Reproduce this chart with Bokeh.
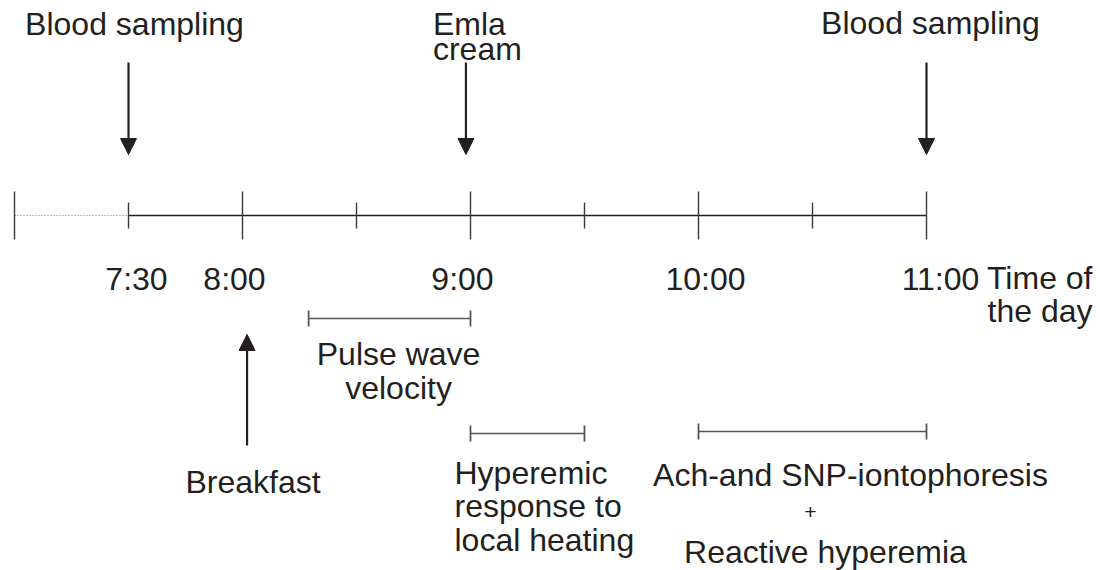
from bokeh.plotting import figure
from bokeh.models import Range1d, Arrow, NormalHead, ColumnDataSource
from bokeh.core.properties import value
from bokeh.embed import file_html
from bokeh.resources import INLINE

# ---------------- data (times in hours of the day) ----------------
timeline_start = 7.0          # dotted part starts here
timeline_solid_start = 7.5    # solid part starts here
timeline_end = 11.0
major_ticks = [7.0, 8.0, 9.0, 10.0, 11.0]
minor_ticks = [7.5, 8.5, 9.5, 10.5]
tick_label_times = [7.5, 8.0, 9.0, 10.0, 11.0]
tick_labels = ["7:30", "8:00", "9:00", "10:00", "11:00"]
axis_title = ["Time of", "the day"]

down_event_times = [7.5, 8.98, 11.0]
down_event_labels = [["Blood sampling"], ["Emla", "cream"], ["Blood sampling"]]
up_event_times = [8.02]
up_event_labels = [["Breakfast"]]

period_starts = [8.29, 9.0, 10.0]
period_ends = [9.0, 9.5, 11.0]
period_labels = [["Pulse wave", "velocity"],
                 ["Hyperemic", "response to", "local heating"],
                 ["Ach-and SNP-iontophoresis", "+", "Reactive hyperemia"]]

# ---------------- style / layout ----------------
INK = "#231f20"
GREY = "#555555"
FONT = value("Liberation Sans")
FS = "32px"
W, H = 1100, 570
PX_PER_HOUR = 228.0
X0 = 7.0 - 14.0 / PX_PER_HOUR
X1 = X0 + W / PX_PER_HOUR
TEXT_DY = -12   # correction between requested and rendered baseline

AXIS_Y = 215
MAJOR_HALF = 24
MINOR_HALF = 13
TICK_LABEL_Y = 290

p = figure(width=W, height=H, output_backend="svg", toolbar_location=None,
           x_axis_type=None, y_axis_type=None,
           x_range=Range1d(X0, X1), y_range=Range1d(H, 0),
           min_border=0, min_border_left=0, min_border_right=0,
           min_border_top=0, min_border_bottom=0)
p.grid.visible = False
p.outline_line_color = None
p.background_fill_color = "white"
p.border_fill_color = "white"


def text(xs, ys, txt, align="center", dx=0, size=FS):
    p.text(x=xs, y=[y + TEXT_DY for y in ys], text=txt, text_align=align,
           text_baseline="alphabetic", x_offset=dx, text_font=FONT,
           text_font_size=size, text_color=INK)


# timeline
p.line([timeline_start, timeline_solid_start], [AXIS_Y, AXIS_Y],
       line_color="#777777", line_width=1, line_dash="1 2")
p.line([timeline_solid_start, timeline_end], [AXIS_Y, AXIS_Y],
       line_color=INK, line_width=1.4)
p.segment(x0=major_ticks, x1=major_ticks,
          y0=[AXIS_Y - MAJOR_HALF] * len(major_ticks),
          y1=[AXIS_Y + MAJOR_HALF] * len(major_ticks),
          line_color="#3a3a3a", line_width=1.4)
p.segment(x0=minor_ticks, x1=minor_ticks,
          y0=[AXIS_Y - MINOR_HALF] * len(minor_ticks),
          y1=[AXIS_Y + MINOR_HALF] * len(minor_ticks),
          line_color="#3a3a3a", line_width=1.4)

# tick labels
tick_dx = [8, -8, -8, 7, 14]
for t, lab, dx in zip(tick_label_times, tick_labels, tick_dx):
    text([t], [TICK_LABEL_Y], [lab], "center", dx)

# axis title, right aligned near the page edge
title_dx = 166
for i, line in enumerate(axis_title):
    text([timeline_end], [289 + 33 * i], [line], "right", title_dx)

# down arrows (events on top)
down_src = ColumnDataSource(dict(x0=down_event_times, x1=down_event_times,
                                 y0=[62] * len(down_event_times),
                                 y1=[154] * len(down_event_times)))
p.add_layout(Arrow(end=NormalHead(size=16, fill_color=INK, line_color=INK, line_width=1),
                   x_start="x0", y_start="y0", x_end="x1", y_end="y1",
                   source=down_src, line_color=INK, line_width=2.2))
down_layout = [("center", 6, 35, 0), ("left", -33, 35, 25), ("center", 4, 34, 0)]
for t, lines, (al, dx, b0, gap) in zip(down_event_times, down_event_labels, down_layout):
    for i, line in enumerate(lines):
        text([t], [b0 + gap * i], [line], al, dx)

# up arrow (breakfast)
up_src = ColumnDataSource(dict(x0=up_event_times, x1=up_event_times,
                               y0=[445] * len(up_event_times),
                               y1=[334] * len(up_event_times)))
p.add_layout(Arrow(end=NormalHead(size=16, fill_color=INK, line_color=INK, line_width=1),
                   x_start="x0", y_start="y0", x_end="x1", y_end="y1",
                   source=up_src, line_color=INK, line_width=2.2))
for t, lines in zip(up_event_times, up_event_labels):
    for i, line in enumerate(lines):
        text([t], [493 + 34 * i], [line], "center", 6)

# period bars
bar_y = [318, 433, 431]
CAP = 8
p.segment(x0=period_starts, x1=period_ends, y0=bar_y, y1=bar_y,
          line_color=GREY, line_width=1.5)
p.segment(x0=period_starts, x1=period_starts,
          y0=[y - CAP for y in bar_y], y1=[y + CAP for y in bar_y],
          line_color=GREY, line_width=1.8)
p.segment(x0=period_ends, x1=period_ends,
          y0=[y - CAP for y in bar_y], y1=[y + CAP for y in bar_y],
          line_color=GREY, line_width=1.8)

# period labels
mid0 = (period_starts[0] + period_ends[0]) / 2
for i, line in enumerate(period_labels[0]):
    text([mid0], [365 + 34 * i], [line], "center", 9)
for i, line in enumerate(period_labels[1]):
    text([period_starts[1]], [484 + 33.5 * i], [line], "left", -16)
mid2 = (period_starts[2] + period_ends[2]) / 2
ion_layout = [(38, 486, FS), (-2, 523, "21px"), (13, 563, FS)]
for line, (dx, b, fs) in zip(period_labels[2], ion_layout):
    text([mid2], [b], [line], "center", dx, fs)

open("out.html", "w").write(file_html(p, INLINE))
